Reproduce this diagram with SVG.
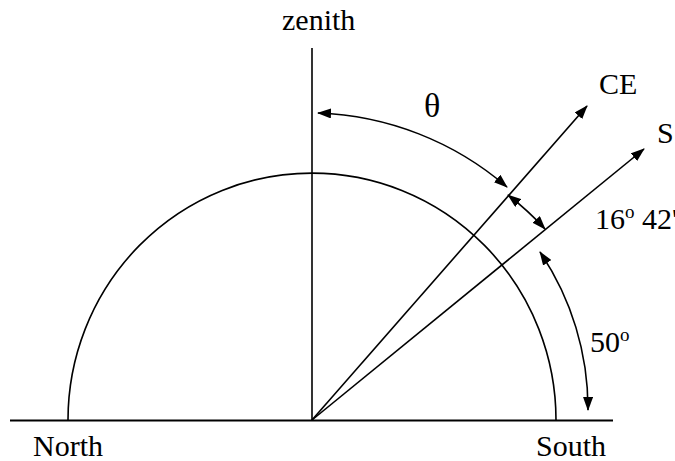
<svg xmlns="http://www.w3.org/2000/svg" width="675" height="461" viewBox="0 0 675 461">
<style>
text{font-family:"Liberation Serif","Times New Roman",serif;font-size:30px;fill:#000}
.ln{stroke:#000;stroke-width:1.6;fill:none}
.ar{stroke:#000;stroke-width:1.6;fill:none;marker-start:url(#ah);marker-end:url(#ah)}
.sup{font-size:19px}
</style>
<defs>
<marker id="ah" viewBox="0 0 14 10" refX="13" refY="5" markerWidth="14" markerHeight="10" markerUnits="userSpaceOnUse" orient="auto-start-reverse">
<path d="M0,0 L14,5 L0,10 Z" fill="#000"/>
</marker>
</defs>
<g id="ground">
<line class="ln" x1="10" y1="420.5" x2="613" y2="420.5" style="stroke-width:2.2"/>
</g>
<g id="zenith-axis">
<line class="ln" x1="312" y1="48" x2="312" y2="420"/>
</g>
<g id="horizon-arc">
<path class="ln" d="M68 420 A244 247 0 0 1 556 420"/>
</g>
<g id="connectors">
<line class="ln" x1="312" y1="420" x2="587" y2="106" marker-end="url(#ah)"/>
<line class="ln" x1="312" y1="420" x2="644" y2="149" marker-end="url(#ah)"/>
<path class="ar" d="M318 113 A306 306 0 0 1 507 187"/>
<path class="ar" d="M508 195 A299 299 0 0 1 545 229"/>
<path class="ar" d="M540 252 A280 280 0 0 1 588 410"/>
</g>
<g id="labels">
<text x="282" y="30">zenith</text>
<text x="424" y="117" style="font-size:34px">θ</text>
<text x="599" y="94">CE</text>
<text x="657" y="143">S</text>
<text x="595" y="229">16<tspan class="sup" dy="-11">o</tspan><tspan dy="11"> 42'</tspan></text>
<text x="590" y="352">50<tspan class="sup" dy="-11">o</tspan></text>
<text x="33" y="456">North</text>
<text x="536" y="456">South</text>
</g>
</svg>
